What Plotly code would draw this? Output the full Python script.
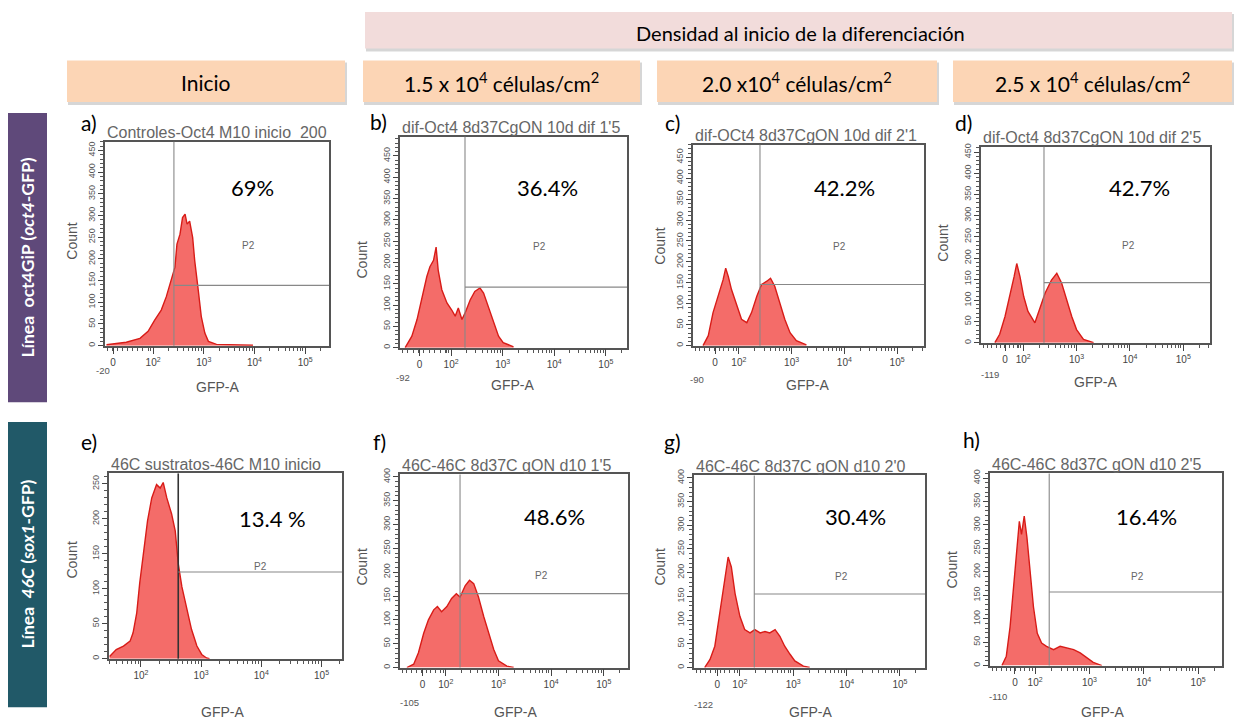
import numpy as np
import plotly.graph_objects as go

W, H = 1238, 725

# ---------------- data ----------------
panel_letters = ["a)", "b)", "c)", "d)", "e)", "f)", "g)", "h)"]
panel_titles = [
    "Controles-Oct4 M10 inicio  200",
    "dif-Oct4 8d37CgON 10d dif 1'5",
    "dif-OCt4 8d37CgON 10d dif 2'1",
    "dif-Oct4 8d37CgON 10d dif 2'5",
    "46C sustratos-46C M10 inicio",
    "46C-46C 8d37C gON d10 1'5",
    "46C-46C 8d37C gON d10 2'0",
    "46C-46C 8d37C gON d10 2'5",
]
percent_labels = ["69%", "36.4%", "42.2%", "42.7%", "13.4 %", "48.6%", "30.4%", "16.4%"]

# GFP-A positions in display decades (10^2 -> 2, 10^3 -> 3 ...) and event counts
a_u = [1.08, 1.47, 1.74, 1.90, 2.03, 2.16, 2.26, 2.36, 2.43, 2.47, 2.53, 2.58, 2.63,
       2.67, 2.72, 2.78, 2.82, 2.89, 2.95, 3.02, 3.09, 3.25, 3.58, 3.97]
a_count = [2, 8, 17, 33, 59, 82, 113, 151, 181, 234, 257, 295, 303,
           280, 287, 249, 196, 128, 67, 29, 10, 3, 2, 1]
b_u = [1.11, 1.24, 1.34, 1.43, 1.53, 1.59, 1.66, 1.71, 1.75, 1.82, 1.92, 2.01, 2.08,
       2.14, 2.21, 2.27, 2.37, 2.46, 2.56, 2.63, 2.72, 2.82, 2.92, 3.01, 3.21]
b_count = [0, 27, 66, 112, 167, 190, 205, 236, 182, 136, 105, 89, 74,
           93, 66, 81, 112, 132, 140, 128, 97, 58, 27, 12, 2]
c_u = [1.32, 1.42, 1.51, 1.61, 1.70, 1.75, 1.80, 1.86, 1.96, 2.05, 2.15, 2.24, 2.34,
       2.43, 2.53, 2.60, 2.68, 2.78, 2.87, 2.97, 3.09, 3.28]
c_count = [0, 24, 79, 118, 157, 185, 165, 134, 94, 63, 55, 79, 118,
           146, 154, 161, 142, 102, 63, 31, 12, 2]
d_u = [1.47, 1.56, 1.66, 1.75, 1.83, 1.88, 1.94, 2.01, 2.09, 2.22, 2.31, 2.41, 2.53,
       2.63, 2.72, 2.81, 2.91, 3.00, 3.13, 3.32]
d_count = [0, 20, 62, 109, 156, 187, 156, 109, 74, 47, 78, 117, 148,
           164, 141, 102, 62, 31, 8, 0]
e_u = [1.48, 1.59, 1.71, 1.82, 1.87, 1.93, 1.98, 2.04, 2.11, 2.18, 2.26, 2.32, 2.37,
       2.43, 2.51, 2.57, 2.62, 2.68, 2.76, 2.84, 2.93, 3.01, 3.09, 3.14]
e_count = [3, 13, 18, 25, 37, 65, 108, 150, 197, 230, 249, 244, 252,
           230, 207, 183, 136, 103, 70, 42, 18, 6, 1, 0]
f_u = [1.26, 1.39, 1.48, 1.58, 1.67, 1.77, 1.84, 1.92, 2.02, 2.11, 2.20, 2.27, 2.37,
       2.45, 2.53, 2.62, 2.72, 2.81, 2.91, 3.00, 3.16, 3.29]
f_count = [0, 7, 31, 72, 100, 121, 128, 117, 128, 145, 155, 148, 172,
           183, 176, 148, 107, 72, 38, 14, 3, 0]
g_u = [1.34, 1.44, 1.53, 1.63, 1.72, 1.78, 1.84, 1.91, 2.00, 2.09, 2.19, 2.28, 2.38,
       2.47, 2.56, 2.66, 2.75, 2.84, 2.94, 3.03, 3.19, 3.31]
g_count = [0, 17, 45, 122, 191, 233, 212, 156, 108, 80, 73, 80, 73,
           76, 73, 80, 66, 45, 28, 14, 3, 0]
h_u = [1.39, 1.47, 1.54, 1.61, 1.67, 1.71, 1.75, 1.80, 1.85, 1.91, 1.97, 2.04, 2.12,
       2.21, 2.34, 2.46, 2.58, 2.71, 2.83, 2.95, 3.07, 3.23]
h_count = [0, 20, 83, 182, 252, 308, 280, 319, 273, 196, 125, 69, 48,
           41, 34, 41, 37, 34, 27, 16, 7, 0]

hist_u = [a_u, b_u, c_u, d_u, e_u, f_u, g_u, h_u]
hist_count = [a_count, b_count, c_count, d_count, e_count, f_count, g_count, h_count]

# P2 gate: GFP threshold (decades) and the count level of its marker line
gate_u = [2.41, 2.27, 2.40, 2.39, 2.62, 2.27, 2.27, 2.26]
gate_count = [139, 142, 146, 142, 124, 155, 155, 157]

# axis scaling per panel
x_ranges = [[1.05, 5.47], [1.01, 5.41], [1.13, 5.51], [1.21, 5.50],
            [1.47, 5.34], [1.13, 5.46], [1.14, 5.47], [1.17, 5.44]]
zero_u = [1.21, 1.39, 1.55, 1.66, None, 1.56, 1.575, 1.63]
min_labels = ["-20", "-92", "-90", "-119", None, "-105", "-122", "-110"]
y_max = [470, 495, 480, 463, 265, 405, 405, 410]

column_headers = ["Inicio", "1.5 x 10<sup>4</sup> células/cm<sup>2</sup>",
                  "2.0 x10<sup>4</sup> células/cm<sup>2</sup>",
                  "2.5 x 10<sup>4</sup> células/cm<sup>2</sup>"]
group_header = "Densidad al inicio de la diferenciación"
row_headers = ["Línea  oct4GiP (<i>oct4</i>-GFP)", "Línea  <i>46C</i> (<i>sox1</i>-GFP)"]

# ---------------- layout geometry (pixels) ----------------
panel_boxes = [  # left, right, top, bottom
    (105, 329, 137, 343), (400, 627, 132, 345), (693, 924, 140, 343), (981, 1210, 142, 340),
    (109, 342, 472, 659), (400, 628, 473, 668), (694, 925, 474, 668), (990, 1222, 472, 666),
]
letter_pos = [(89, 118), (378, 117), (673, 118), (963, 118),
              (89, 440), (379, 440), (673, 440), (971, 438)]
percent_pos = [(252, 183), (547, 183), (844, 183), (1139, 183),
               (272, 517), (554, 515), (855, 515), (1146, 515)]
p2_pos = [(248, 242), (539, 243), (839, 243), (1128, 242),
          (260, 566), (541, 575), (841, 576), (1137, 576)]
count_pos = [(72, 238), (362, 257), (660, 243), (943, 240),
             (72, 560), (362, 567), (660, 567), (952, 570)]
gfp_pos = [(217, 385), (512, 383), (807, 383), (1095, 380),
           (223, 713), (515, 713), (810, 713), (1102, 713)]
min_label_pos = [(103, 368), (403, 375), (697, 377), (990, 372),
                 None, (409, 703), (703, 705), (998, 697)]
header_boxes = [(67, 345), (363, 640), (657, 937), (953, 1232)]
row_boxes = [(108, 400), (420, 708)]


def fx(x):
    return x / W


def fy(y):
    return 1 - y / H


PANEL_FONT = "Liberation Sans"
OFFICE_FONT = "Lato"

fig = go.Figure()
layout = dict(
    width=W, height=H, margin=dict(l=0, r=0, t=0, b=0),
    paper_bgcolor="white", plot_bgcolor="white", showlegend=False,
)
shapes = []
annotations = []


def label(text, x, y, size, color, family, angle=0, xanchor="center", **extra):
    annotations.append(dict(
        text=text, x=fx(x), y=fy(y), xref="paper", yref="paper", showarrow=False,
        xanchor=xanchor, yanchor="middle", textangle=angle,
        font=dict(family=family, size=size, color=color), **extra))


for i in range(8):
    sfx = "" if i == 0 else str(i + 1)
    l, r, t, b = panel_boxes[i]
    xr = x_ranges[i]

    fig.add_trace(go.Scatter(
        x=hist_u[i], y=hist_count[i], mode="lines", fill="tozeroy",
        fillcolor="rgba(243,96,92,0.92)",
        line=dict(color="#d81c18", width=1.4),
        xaxis="x" + sfx, yaxis="y" + sfx, hoverinfo="skip",
    ))

    # x ticks: biexponential-style display with a linear region around zero
    tickvals, ticktext = [], []
    if zero_u[i] is not None:
        tickvals.append(zero_u[i])
        ticktext.append("0")
    for dec in (2, 3, 4, 5):
        tickvals.append(dec)
        ticktext.append("10<sup>%d</sup>" % dec)
    low = 1.9 if zero_u[i] is not None else xr[0]
    minor = [n + np.log10(k) for n in range(1, 6) for k in range(2, 10)]
    minor = [v for v in minor if low < v < xr[1]]
    if zero_u[i] is not None:
        minor += list(np.linspace(xr[0] + 0.04, 1.9, 9))

    layout["xaxis" + sfx] = dict(
        domain=[fx(l), fx(r)], range=xr, anchor="y" + sfx,
        showgrid=False, zeroline=False, showline=True, mirror=True,
        linecolor="#555", linewidth=1.5,
        ticks="outside", ticklen=7, tickwidth=1.3, tickcolor="#444",
        tickmode="array", tickvals=tickvals, ticktext=ticktext, tickangle=0,
        tickfont=dict(family=PANEL_FONT, size=10, color="#444"),
        minor=dict(tickmode="array", tickvals=minor, ticks="outside",
                   ticklen=4, tickwidth=1, tickcolor="#555"),
        fixedrange=True,
    )
    layout["yaxis" + sfx] = dict(
        domain=[fy(b), fy(t)], range=[0, y_max[i]], anchor="x" + sfx,
        showgrid=False, zeroline=False, showline=True, mirror=True,
        linecolor="#555", linewidth=1.5,
        ticks="outside", ticklen=5, tickwidth=1.2, tickcolor="#444",
        tickmode="linear", tick0=0, dtick=50, tickangle=-90,
        tickfont=dict(family=PANEL_FONT, size=9, color="#555"),
        minor=dict(tickmode="linear", tick0=0, dtick=10, ticks="outside",
                   ticklen=3, tickwidth=1, tickcolor="#555"),
        fixedrange=True,
    )

    # P2 gate marker: vertical threshold and horizontal bar to the right
    gate_col = "#333" if i == 4 else "#888"
    gate_w = 1.6 if i == 4 else 1.1
    shapes.append(dict(type="line", xref="x" + sfx, yref="y" + sfx + " domain",
                       x0=gate_u[i], x1=gate_u[i], y0=0, y1=1,
                       line=dict(color=gate_col, width=gate_w), layer="above"))
    shapes.append(dict(type="line", xref="x" + sfx, yref="y" + sfx,
                       x0=gate_u[i], x1=xr[1], y0=gate_count[i], y1=gate_count[i],
                       line=dict(color="#888", width=1.1), layer="above"))

    label(panel_letters[i], *letter_pos[i], 21, "black", OFFICE_FONT)
    label(panel_titles[i], l, t - 9, 16, "#666", PANEL_FONT, xanchor="left",
          align="left", width=r - l)
    label(percent_labels[i], *percent_pos[i], 22, "black", OFFICE_FONT)
    label("P2", *p2_pos[i], 10, "#666", PANEL_FONT)
    label("Count", *count_pos[i], 14, "#555", PANEL_FONT, angle=-90)
    label("GFP-A", *gfp_pos[i], 14, "#555", PANEL_FONT)
    if min_labels[i] is not None:
        label(min_labels[i], *min_label_pos[i], 9.5, "#555", PANEL_FONT)


def shadowed_box(x0, y0, x1, y1, color):
    shapes.append(dict(type="rect", xref="paper", yref="paper",
                       x0=fx(x0 + 1), x1=fx(x1 + 2), y0=fy(y1 + 3), y1=fy(y0 + 2),
                       fillcolor="rgba(0,0,0,0.16)", line=dict(width=0), layer="below"))
    shapes.append(dict(type="rect", xref="paper", yref="paper",
                       x0=fx(x0), x1=fx(x1), y0=fy(y1), y1=fy(y0),
                       fillcolor=color, line=dict(width=0), layer="below"))


# column group header
shadowed_box(365, 6, 1232, 43, "#f2dcdb")
label(group_header, 800, 27, 20, "black", OFFICE_FONT)
# column headers
for (x0, x1), txt in zip(header_boxes, column_headers):
    shadowed_box(x0, 55, x1, 97, "#fcd5b5")
    label(txt, (x0 + x1) / 2, 77, 21, "black", OFFICE_FONT)
# row headers
for (y0, y1), txt, col in zip(row_boxes, row_headers, ["#5f497a", "#215968"]):
    shapes.append(dict(type="rect", xref="paper", yref="paper",
                       x0=fx(8), x1=fx(47), y0=fy(y1), y1=fy(y0),
                       fillcolor=col, line=dict(width=0), layer="below"))
    label("<b>" + txt + "</b>", 28, (y0 + y1) / 2, 17.5, "white", OFFICE_FONT, angle=-90)

layout["shapes"] = shapes
layout["annotations"] = annotations
fig.update_layout(**layout)
fig.write_html("out.html")
